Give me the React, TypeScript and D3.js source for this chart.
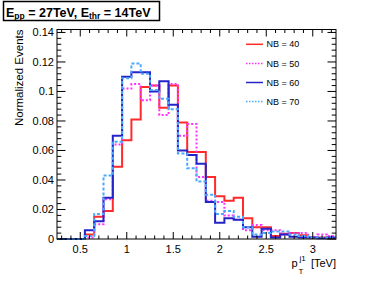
import * as d3 from "d3";

// low edges of the 0.1 TeV bins
const binLow = [
  0.25, 0.35, 0.45, 0.55, 0.65, 0.75, 0.85, 0.95, 1.05, 1.15,
  1.25, 1.35, 1.45, 1.55, 1.65, 1.75, 1.85, 1.95, 2.05, 2.15,
  2.25, 2.35, 2.45, 2.55, 2.65, 2.75, 2.85, 2.95, 3.05, 3.15,
];
const binWidth = 0.1;

const nb40 = [
  0, 0, 0, 0.003, 0.015, 0.019, 0.049, 0.067, 0.081, 0.103,
  0.104, 0.089, 0.104, 0.079, 0.059, 0.059, 0.042, 0.029, 0.026, 0.028,
  0.014, 0.008, 0.008, 0.002, 0.0035, 0.004, 0.0025, 0.001, 0.001, 0.0005,
];
const nb50 = [
  0, 0, 0, 0.001, 0.01, 0.027, 0.064, 0.102, 0.105, 0.094,
  0.104, 0.084, 0.105, 0.07, 0.078, 0.042, 0.026, 0.025, 0.016, 0.013,
  0.006, 0.0095, 0.006, 0.006, 0.003, 0.004, 0.004, 0.001, 0.003, 0.002,
];
const nb60 = [
  0, 0, 0, 0.006, 0.012, 0.028, 0.07, 0.11, 0.113, 0.113,
  0.1, 0.107, 0.091, 0.06, 0.057, 0.051, 0.025, 0.011, 0.014, 0.013,
  0.008, 0.0015, 0.007, 0.001, 0.003, 0.0015, 0.001, 0.001, 0.0005, 0.001,
];
const nb70 = [
  0, 0, 0, 0.002, 0.017, 0.043, 0.066, 0.109, 0.119, 0.112,
  0.101, 0.095, 0.088, 0.058, 0.048, 0.039, 0.03, 0.017, 0.019, 0.015,
  0.008, 0.003, 0.004, 0.005, 0.005, 0.003, 0.002, 0.001, 0.001, 0.0005,
];

const seriesNames = ["NB = 40", "NB = 50", "NB = 60", "NB = 70"];
const seriesColors = ["#ff2a2a", "#ff33ff", "#2424c8", "#4aa8ff"];
const seriesDash = ["none", "2,2", "none", "3,2"];

const yTicks = [0, 0.02, 0.04, 0.06, 0.08, 0.1, 0.12, 0.14];
const xTicks = [0.5, 1, 1.5, 2, 2.5, 3];

const W = 374;
const H = 282;
const frame = { left: 57, right: 336, top: 29.5, bottom: 239 };
const font = "'Liberation Sans', Arial, Helvetica, sans-serif";

export default function App() {
  const x = d3.scaleLinear().domain([0.25, 3.25]).range([frame.left, frame.right]);
  const y = d3.scaleLinear().domain([0, 0.142]).range([frame.bottom, frame.top]);

  const allSeries = [nb40, nb50, nb60, nb70];

  const stepLine = d3
    .line<[number, number]>()
    .x((d) => x(d[0]))
    .y((d) => y(d[1]));

  const paths = allSeries.map((vals) => {
    const pts: [number, number][] = [];
    vals.forEach((v, i) => {
      pts.push([binLow[i], v]);
      pts.push([binLow[i] + binWidth, v]);
    });
    return stepLine(pts);
  });

  const xMinor = d3.range(0.3, 3.25, 0.1).filter((t) => !xTicks.some((m) => Math.abs(m - t) < 1e-6));
  const yMinor = d3.range(0.004, 0.142, 0.004).filter((t) => !yTicks.some((m) => Math.abs(m - t) < 1e-6));

  const xMaj = 7, xMin = 3.5, yMaj = 8.5, yMin = 4.3;

  return (
    <svg
      width={W}
      height={H}
      style={{ position: "absolute", left: 0, top: 0, background: "#fff" }}
      fontFamily={font}
    >
      {/* histograms */}
      <g fill="none" strokeWidth={2}>
        {paths.map((p, i) => (
          <path
            key={i}
            d={p || ""}
            stroke={seriesColors[i]}
            strokeDasharray={seriesDash[i]}
          />
        ))}
      </g>

      {/* frame */}
      <rect
        x={frame.left}
        y={frame.top}
        width={frame.right - frame.left}
        height={frame.bottom - frame.top}
        fill="none"
        stroke="#000"
        strokeWidth={1}
      />

      {/* ticks */}
      <g stroke="#000" strokeWidth={1}>
        {xTicks.map((t) => (
          <g key={"xm" + t}>
            <line x1={x(t)} x2={x(t)} y1={frame.bottom} y2={frame.bottom - xMaj} />
            <line x1={x(t)} x2={x(t)} y1={frame.top} y2={frame.top + xMaj} />
          </g>
        ))}
        {xMinor.map((t) => (
          <g key={"xn" + t}>
            <line x1={x(t)} x2={x(t)} y1={frame.bottom} y2={frame.bottom - xMin} />
            <line x1={x(t)} x2={x(t)} y1={frame.top} y2={frame.top + xMin} />
          </g>
        ))}
        {yTicks.map((t) => (
          <g key={"ym" + t}>
            <line x1={frame.left} x2={frame.left + yMaj} y1={y(t)} y2={y(t)} />
            <line x1={frame.right} x2={frame.right - yMaj} y1={y(t)} y2={y(t)} />
          </g>
        ))}
        {yMinor.map((t) => (
          <g key={"yn" + t}>
            <line x1={frame.left} x2={frame.left + yMin} y1={y(t)} y2={y(t)} />
            <line x1={frame.right} x2={frame.right - yMin} y1={y(t)} y2={y(t)} />
          </g>
        ))}
      </g>

      {/* tick labels */}
      <g fontSize={11} fill="#000">
        {yTicks.map((t) => (
          <text key={"yl" + t} x={frame.left - 3} y={y(t)} dy="0.36em" textAnchor="end">
            {d3.format("~g")(t)}
          </text>
        ))}
        {xTicks.map((t) => (
          <text key={"xl" + t} x={x(t)} y={252.5} textAnchor="middle">
            {d3.format("~g")(t)}
          </text>
        ))}
      </g>

      {/* axis titles */}
      <text
        transform={`translate(22.5,${frame.top}) rotate(-90)`}
        textAnchor="end"
        fontSize={11.5}
      >
        Normalized Events
      </text>
      <g fontSize={11}>
        <text x={291.5} y={267}>p</text>
        <text x={299.5} y={261} fontSize={8}>j1</text>
        <text x={298.5} y={274} fontSize={8}>T</text>
        <text x={336} y={267} textAnchor="end">[TeV]</text>
      </g>

      {/* legend */}
      <g fontSize={9}>
        {seriesNames.map((n, i) => {
          const ly = 44.3 + i * 19.1;
          return (
            <g key={n}>
              <line
                x1={246}
                x2={263}
                y1={ly}
                y2={ly}
                stroke={seriesColors[i]}
                strokeWidth={1.5}
                strokeDasharray={seriesDash[i] === "none" ? "none" : "1.5,1.5"}
              />
              <text x={266.5} y={ly} dy="0.35em">
                {n}
              </text>
            </g>
          );
        })}
      </g>

      {/* title box */}
      <rect x={3.5} y={1.5} width={156} height={19} fill="#fff" stroke="#000" strokeWidth={1.5} />
      <text x={6} y={16.5} fontSize={12.5} fontWeight="bold">
        E<tspan fontSize={8.5} dy={2.5}>pp</tspan>
        <tspan dy={-2.5}> = 27TeV, E</tspan>
        <tspan fontSize={8.5} dy={2.5}>thr</tspan>
        <tspan dy={-2.5}> = 14TeV</tspan>
      </text>
    </svg>
  );
}
